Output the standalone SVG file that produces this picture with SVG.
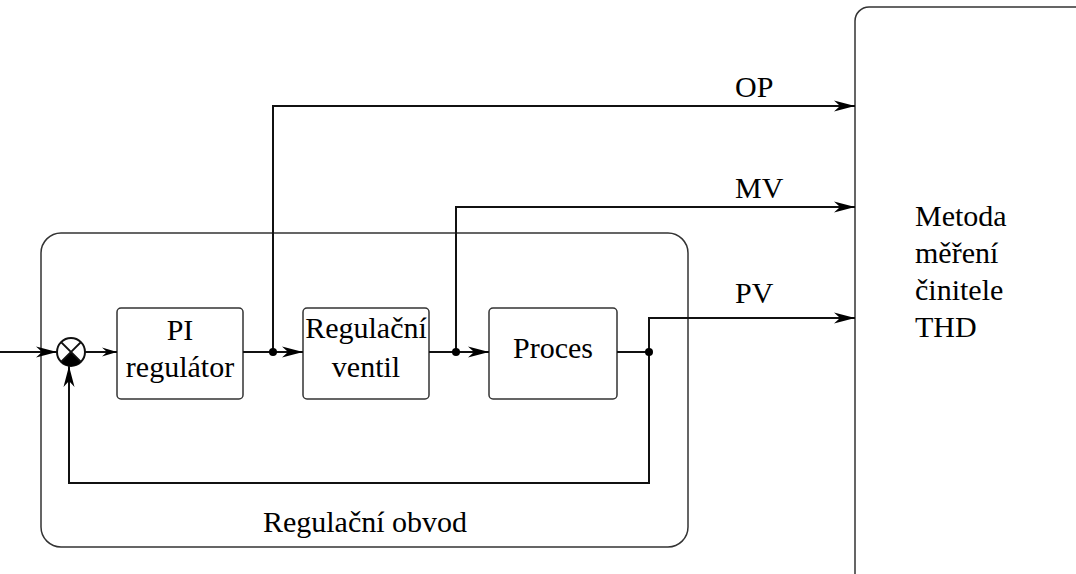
<svg xmlns="http://www.w3.org/2000/svg" width="1076" height="574" viewBox="0 0 1076 574" font-family="'Liberation Serif', 'Times New Roman', Tinos, 'DejaVu Serif', serif">
<style>
.box{fill:#fff;stroke:#333;stroke-width:1.5}
.frame{fill:none;stroke:#333;stroke-width:1.5}
.ln{fill:none;stroke:#111;stroke-width:2}
.dot{fill:#000}
.t{font-family:'Liberation Serif', 'Times New Roman', Tinos, 'DejaVu Serif', serif;font-size:30px;fill:#000}
.c{text-anchor:middle}
</style>
<defs>
<marker id="ah" markerUnits="userSpaceOnUse" viewBox="-22 -6 23 12" refX="0" refY="0" markerWidth="23" markerHeight="12" orient="auto">
<path d="M0,0 L-21,-5.5 L-15,0 L-21,5.5 Z" fill="#000"/>
</marker>
<marker id="as" markerUnits="userSpaceOnUse" viewBox="-16 -5 17 10" refX="0" refY="0" markerWidth="17" markerHeight="10" orient="auto">
<path d="M0,0 L-15,-4.5 L-10,0 L-15,4.5 Z" fill="#000"/>
</marker>
</defs>

<g id="loop">
<rect class="frame" x="41" y="233" width="647" height="314" rx="20"/>
<text class="t c" x="365" y="532">Regulační obvod</text>
</g>

<g id="thd">
<rect class="frame" x="855" y="7" width="234" height="590" rx="14"/>
<text class="t" x="915" y="226">Metoda</text>
<text class="t" x="915" y="263">měření</text>
<text class="t" x="915" y="300">činitele</text>
<text class="t" x="915" y="337">THD</text>
</g>

<g id="sum">
<circle cx="71" cy="352" r="14" fill="#fff" stroke="#111" stroke-width="2"/>
<path d="M71,352 L80.9,361.9 A14,14 0 0 1 61.1,361.9 Z" fill="#000"/>
<path d="M61.1,342.1 L80.9,361.9 M80.9,342.1 L61.1,361.9" stroke="#111" stroke-width="2"/>
</g>

<g id="pi">
<rect class="box" x="117" y="308" width="126" height="91" rx="4"/>
<text class="t c" x="180" y="340">PI</text>
<text class="t c" x="180" y="377">regulátor</text>
</g>

<g id="ventil">
<rect class="box" x="303" y="308" width="126" height="91" rx="4"/>
<text class="t c" x="366" y="338">Regulační</text>
<text class="t c" x="366" y="377">ventil</text>
</g>

<g id="proces">
<rect class="box" x="489" y="308" width="128" height="91" rx="4"/>
<text class="t c" x="553" y="358">Proces</text>
</g>

<g id="connectors">
<line class="ln" x1="0" y1="352" x2="57" y2="352" marker-end="url(#ah)"/>
<line class="ln" x1="85" y1="352" x2="117" y2="352" marker-end="url(#as)"/>
<line class="ln" x1="243" y1="352" x2="303" y2="352" marker-end="url(#ah)"/>
<line class="ln" x1="429" y1="352" x2="489" y2="352" marker-end="url(#ah)"/>
<line class="ln" x1="617" y1="352" x2="649" y2="352"/>
<polyline class="ln" points="649,352 649,483 69,483 69,366" marker-end="url(#ah)"/>
<polyline class="ln" points="649,352 649,318 855,318" marker-end="url(#ah)"/>
<polyline class="ln" points="273,352 273,106 855,106" marker-end="url(#ah)"/>
<polyline class="ln" points="456,352 456,207 855,207" marker-end="url(#ah)"/>
<circle class="dot" cx="273" cy="352" r="4"/>
<circle class="dot" cx="456" cy="352" r="4"/>
<circle class="dot" cx="649" cy="352" r="4"/>
<text class="t" x="735" y="97">OP</text>
<text class="t" x="735" y="198">MV</text>
<text class="t" x="735" y="303">PV</text>
</g>
</svg>
